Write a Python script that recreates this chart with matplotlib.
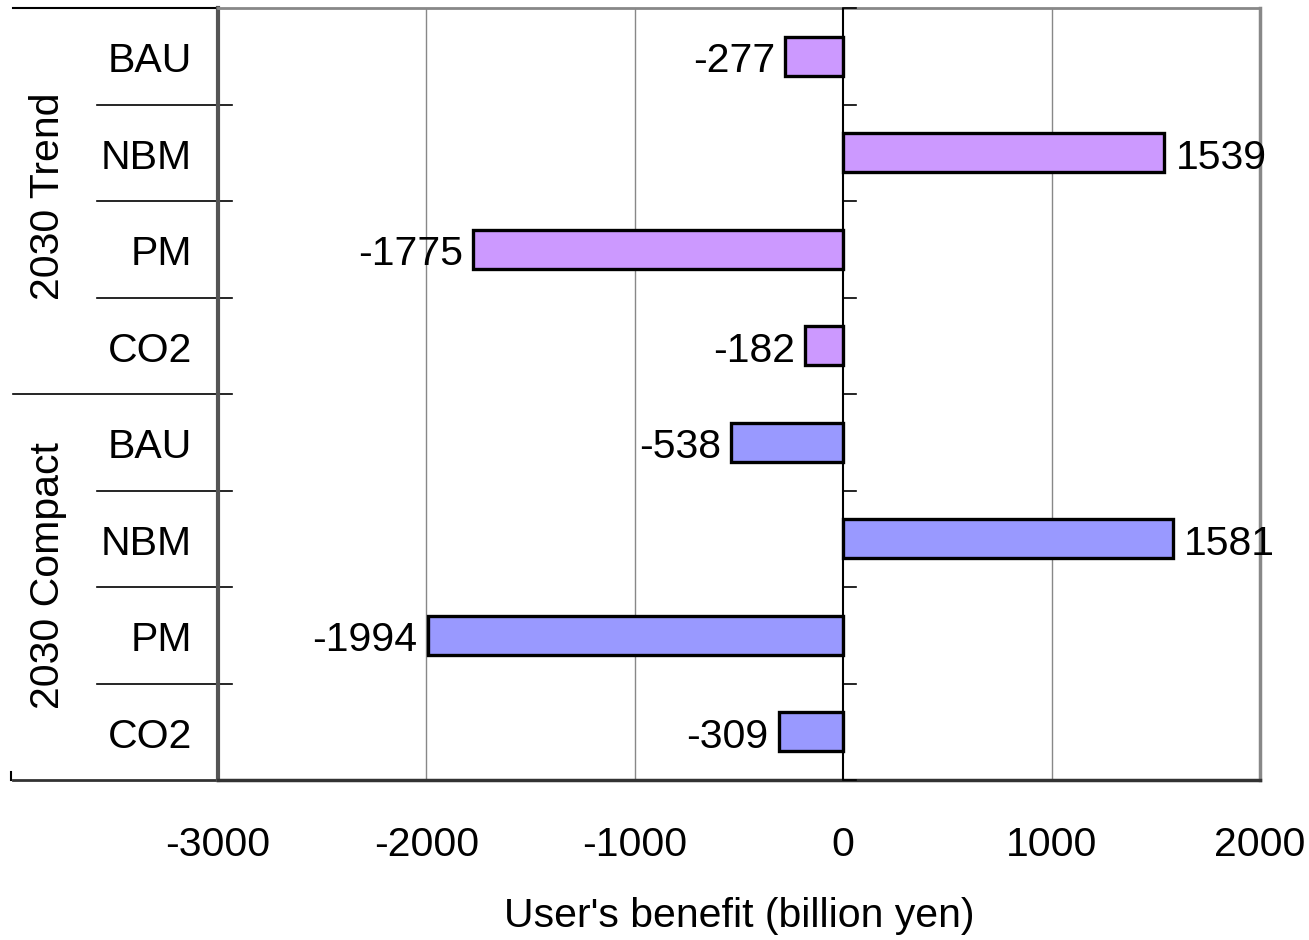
import matplotlib.pyplot as plt
from matplotlib.transforms import blended_transform_factory

plt.rcParams['font.family'] = ['Liberation Sans', 'DejaVu Sans']

groups = ['2030 Trend', '2030 Compact']
scenarios = ['BAU', 'NBM', 'PM', 'CO2']
trend_vals = [-277, 1539, -1775, -182]
compact_vals = [-538, 1581, -1994, -309]
colors = ['#CC99FF', '#9999FF']
xticks = [-3000, -2000, -1000, 0, 1000, 2000]

fig = plt.figure(figsize=(13.09, 9.40), dpi=100)
ax = fig.add_axes([218 / 1309, 1 - 780 / 940, (1260 - 218) / 1309, (780 - 8) / 940])

fs = 29.5
dy = 0.05  # text sits a little lower than the row centre
values = trend_vals + compact_vals
bar_colors = [colors[0]] * 4 + [colors[1]] * 4
ypos = [i + 0.5 for i in range(len(values))]

ax.barh(ypos, values, height=0.4, color=bar_colors, edgecolor='black', linewidth=2.4, zorder=3)

for y, v in zip(ypos, values):
    if v < 0:
        ax.text(v - 50, y + dy, str(v), ha='right', va='center', fontsize=fs)
    else:
        ax.text(v + 55, y + dy, str(v), ha='left', va='center', fontsize=fs)

ax.set_xlim(-3000, 2000)
ax.set_ylim(8, 0)
ax.set_xticks(xticks)
ax.set_xticklabels([str(t) for t in xticks], fontsize=fs)
ax.tick_params(axis='x', length=0, pad=33)
ax.set_yticks([])
ax.set_xlabel("User's benefit (billion yen)", fontsize=fs, labelpad=24)

for x in [-2000, -1000, 1000]:
    ax.axvline(x, color='#888888', linewidth=1, zorder=1)

# zero line and its small ticks
ax.axvline(0, color='black', linewidth=1.5, zorder=4)
for k in range(9):
    ax.plot([0, 60], [k, k], color='black', linewidth=1.2, zorder=4, clip_on=False)

ax.spines['top'].set_color('#888888')
ax.spines['right'].set_color('#888888')
ax.spines['top'].set_linewidth(2)
ax.spines['right'].set_linewidth(2.5)
ax.spines['left'].set_color('#555555')
ax.spines['left'].set_linewidth(3)
ax.spines['bottom'].set_color('#333333')
ax.spines['bottom'].set_linewidth(2.5)

# label area on the left
tr = blended_transform_factory(fig.transFigure, ax.transData)
x_far = 13 / 1309
x_mid = 97 / 1309
x_in = 232 / 1309
for k in range(1, 8):
    x0 = x_far if k == 4 else x_mid
    ax.plot([x0, x_in], [k, k], color='black', linewidth=1.2, transform=tr, clip_on=False)
ax.plot([x_far, 218 / 1309], [0, 0], color='black', linewidth=1.5, transform=tr, clip_on=False)
ax.plot([x_far, 218 / 1309], [8, 8], color='#333333', linewidth=2, transform=tr, clip_on=False)
ax.plot([11 / 1309, 11 / 1309], [7.92, 8], color='black', linewidth=1.5, transform=tr, clip_on=False)

for i, name in enumerate(scenarios * 2):
    ax.text(192 / 1309, i + 0.5 + dy, name, ha='right', va='center', fontsize=fs, transform=tr)

ax.text(48 / 1309, 1.95, groups[0], rotation=90, ha='center', va='center', fontsize=fs, transform=tr)
ax.text(48 / 1309, 5.88, groups[1], rotation=90, ha='center', va='center', fontsize=fs, transform=tr)

fig.savefig('out.png', dpi=100)
